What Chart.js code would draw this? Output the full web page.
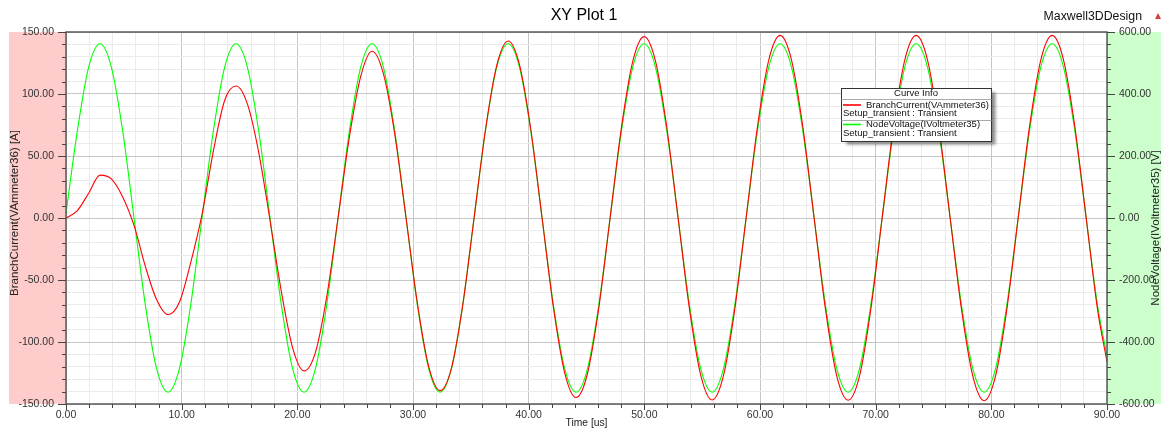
<!DOCTYPE html>
<html lang="en">
<head>
<meta charset="UTF-8" />
<title>XY Plot 1</title>
<script src="https://cdn.jsdelivr.net/npm/chart.js"></script>
<style>
  html, body { margin: 0; padding: 0; background: #fff; }
  canvas { display: block; }
</style>
</head>
<body>
<canvas id="plot" width="1161" height="429"></canvas>
<script>
// time samples [us]
const times = [
  0, 0.98, 1.96, 2.94, 3.92, 4.9, 5.88, 6.86, 7.84, 8.82, 9.8, 10.78,
  11.76, 12.74, 13.72, 14.7, 15.68, 16.66, 17.64, 18.62, 19.6, 20.58, 21.56, 22.54,
  23.52, 24.5, 25.48, 26.46, 27.44, 28.42, 29.4, 30.38, 31.36, 32.34, 33.32, 34.3,
  35.28, 36.26, 37.24, 38.22, 39.2, 40.18, 41.16, 42.14, 43.12, 44.1, 45.08, 46.06,
  47.04, 48.02, 49, 49.98, 50.96, 51.94, 52.92, 53.9, 54.88, 55.86, 56.84, 57.82,
  58.8, 59.78, 60.76, 61.74, 62.72, 63.7, 64.68, 65.66, 66.64, 67.62, 68.6, 69.58,
  70.56, 71.54, 72.52, 73.5, 74.48, 75.46, 76.44, 77.42, 78.4, 79.38, 80.36, 81.34,
  82.32, 83.3, 84.28, 85.26, 86.24, 87.22, 88.2, 89.18, 90
];

// BranchCurrent(VAmmeter36) [A]
const branchCurrent = [
  0, 6, 20, 34.6, 31.5, 17, -6, -39, -66, -78, -68, -36,
  3, 54, 95, 106.4, 92, 53, -2, -59.4, -104.9, -123.3, -108.5, -63.6,
  0, 65.2, 114.2, 134.5, 116.4, 67.8, 0, -68.8, -119.9, -139.2, -121.2, -70.3,
  0, 70.8, 123.1, 142.8, 123.9, 71.8, 0, -72.1, -125.1, -144.8, -125.6, -72.7,
  0, 72.9, 126.3, 146.3, 126.7, 73.2, 0, -73.3, -127, -146.8, -127.2, -73.5,
  0, 73.6, 127.5, 147.3, 127.6, 73.7, 0, -73.7, -127.6, -147, -127.6, -73.7,
  0, 73.7, 127.6, 147.3, 127.6, 73.7, 0, -73.7, -127.6, -147.4, -127.6, -73.7,
  0, 73.7, 127.6, 147.3, 127.6, 73.7, 0, -73.7, -116
];

// NodeVoltage(IVoltmeter35) [V]
const nodeVoltage = [
  15, 281, 487, 562, 487, 281, 0, -281, -487, -562, -487, -281,
  0, 281, 487, 562, 487, 281, 0, -281, -487, -562, -487, -281,
  0, 281, 487, 562, 487, 281, 0, -281, -487, -562, -487, -281,
  0, 281, 487, 562, 487, 281, 0, -281, -487, -562, -487, -281,
  0, 281, 487, 562, 487, 281, 0, -281, -487, -562, -487, -281,
  0, 281, 487, 562, 487, 281, 0, -281, -487, -562, -487, -281,
  0, 281, 487, 562, 487, 281, 0, -281, -487, -562, -487, -281,
  0, 281, 487, 562, 487, 281, 0, -281, -445
];

// labelled ticks
const xLabelTicks = [0, 10, 20, 30, 40, 50, 60, 70, 80, 90];
const leftLabelTicks = [-150, -100, -50, 0, 50, 100, 150];
const rightLabelTicks = [-600, -400, -200, 0, 200, 400, 600];

function range(a, b, step) {
  const out = [];
  for (let v = a; v <= b; v += step) out.push(v);
  return out;
}
const xMinor = range(0, 90, 2);
const leftMinor = range(-150, 150, 10);
const rightMinor = range(-600, 600, 40);

const FONT = '"Liberation Sans", Arial, sans-serif';
const MAJOR = '#c6c6c6';
const MINOR = '#ebebeb';

const decor = {
  id: 'decor',
  beforeDraw(chart) {
    const { ctx, chartArea: a } = chart;
    ctx.save();
    ctx.fillStyle = '#fff';
    ctx.fillRect(0, 0, chart.width, chart.height);
    ctx.fillStyle = 'rgb(255,204,204)';
    ctx.fillRect(9, a.top, a.left - 9, a.bottom - a.top);
    ctx.fillStyle = 'rgb(204,255,204)';
    ctx.fillRect(a.right, a.top, chart.width - a.right, a.bottom - a.top);
    ctx.restore();
  },
  afterDraw(chart) {
    const { ctx, chartArea: a } = chart;
    const xs = chart.scales.x, yl = chart.scales.y, yr = chart.scales.y1;
    ctx.save();

    // frame
    ctx.strokeStyle = '#5a5a5a';
    ctx.lineWidth = 1.5;
    ctx.strokeRect(a.left, a.top, a.right - a.left, a.bottom - a.top);

    // tick marks
    ctx.strokeStyle = '#444';
    ctx.lineWidth = 1;
    ctx.beginPath();
    xs.ticks.forEach(t => {
      const px = Math.round(xs.getPixelForValue(t.value)) + 0.5;
      const len = t.value % 10 === 0 ? 6 : 4;
      ctx.moveTo(px, a.bottom); ctx.lineTo(px, a.bottom + len);
    });
    yl.ticks.forEach(t => {
      const py = Math.round(yl.getPixelForValue(t.value)) + 0.5;
      const len = t.value % 50 === 0 ? 8 : 4;
      ctx.moveTo(a.left - len, py); ctx.lineTo(a.left, py);
    });
    yr.ticks.forEach(t => {
      const py = Math.round(yr.getPixelForValue(t.value)) + 0.5;
      const len = t.value % 200 === 0 ? 8 : 4;
      ctx.moveTo(a.right, py); ctx.lineTo(a.right + len, py);
    });
    ctx.stroke();

    // titles
    ctx.fillStyle = '#000';
    ctx.textBaseline = 'middle';
    ctx.textAlign = 'center';
    ctx.font = '16px ' + FONT;
    ctx.fillText('XY Plot 1', 584, 16);
    ctx.font = '10.3px ' + FONT;
    ctx.fillStyle = '#222';
    ctx.fillText('Time [us]', (a.left + a.right) / 2, 423);

    ctx.fillStyle = '#111';
    ctx.textAlign = 'right';
    ctx.font = '12.3px ' + FONT;
    ctx.fillText('Maxwell3DDesign', 1142, 17);
    ctx.fillStyle = '#d04040';
    ctx.beginPath();
    ctx.moveTo(1155, 19); ctx.lineTo(1161, 19); ctx.lineTo(1158, 13); ctx.closePath();
    ctx.fill();

    // axis titles
    ctx.fillStyle = '#222';
    ctx.font = '11.5px ' + FONT;
    ctx.textAlign = 'center';
    ctx.save();
    ctx.translate(15, 213);
    ctx.rotate(-Math.PI / 2);
    ctx.fillText('BranchCurrent(VAmmeter36) [A]', 0, 0);
    ctx.restore();
    ctx.save();
    ctx.translate(1155.5, 228);
    ctx.rotate(-Math.PI / 2);
    ctx.fillText('NodeVoltage(IVoltmeter35) [V]', 0, 0);
    ctx.restore();

    // curve info box
    const bx = 841.5, by = 88.5, bw = 150, bh = 53;
    ctx.save();
    ctx.shadowColor = 'rgba(0,0,0,0.45)';
    ctx.shadowOffsetX = 4;
    ctx.shadowOffsetY = 3;
    ctx.shadowBlur = 3;
    ctx.fillStyle = '#fff';
    ctx.fillRect(bx, by, bw, bh);
    ctx.restore();
    ctx.strokeStyle = '#333';
    ctx.lineWidth = 1;
    ctx.strokeRect(bx, by, bw, bh);
    ctx.strokeStyle = '#aaa';
    ctx.beginPath();
    ctx.moveTo(bx, 99.5); ctx.lineTo(bx + bw, 99.5);
    ctx.moveTo(bx, 120.5); ctx.lineTo(bx + bw, 120.5);
    ctx.stroke();

    ctx.font = '9.5px ' + FONT;
    ctx.fillStyle = '#111';
    ctx.textAlign = 'center';
    ctx.fillText('Curve Info', 916, 93.8);
    ctx.textAlign = 'left';
    ctx.lineWidth = 1.6;
    ctx.strokeStyle = '#ff0000';
    ctx.beginPath(); ctx.moveTo(843, 105); ctx.lineTo(861, 105); ctx.stroke();
    ctx.strokeStyle = '#00ff00';
    ctx.beginPath(); ctx.moveTo(843, 124.5); ctx.lineTo(861, 124.5); ctx.stroke();
    ctx.fillText('BranchCurrent(VAmmeter36)', 866, 105);
    ctx.fillText('Setup_transient : Transient', 843, 113.5);
    ctx.fillText('NodeVoltage(IVoltmeter35)', 866, 124.5);
    ctx.fillText('Setup_transient : Transient', 843, 133.3);

    ctx.restore();
  }
};

const tickFont = { family: FONT, size: 10.5 };

new Chart(document.getElementById('plot'), {
  type: 'line',
  data: {
    datasets: [
      {
        label: 'BranchCurrent(VAmmeter36)',
        data: times.map((t, i) => ({ x: t, y: branchCurrent[i] })),
        yAxisID: 'y',
        borderColor: '#ff0000',
        borderWidth: 1.1,
        pointRadius: 0,
        cubicInterpolationMode: 'monotone',
        fill: false
      },
      {
        label: 'NodeVoltage(IVoltmeter35)',
        data: times.map((t, i) => ({ x: t, y: nodeVoltage[i] })),
        yAxisID: 'y1',
        borderColor: '#00ff00',
        borderWidth: 1.1,
        pointRadius: 0,
        cubicInterpolationMode: 'monotone',
        fill: false
      }
    ]
  },
  options: {
    responsive: false,
    animation: false,
    events: [],
    layout: { padding: { top: 32, left: 0, right: 0, bottom: 0 } },
    plugins: { legend: { display: false }, tooltip: { enabled: false } },
    scales: {
      x: {
        type: 'linear',
        min: 0,
        max: 90,
        afterBuildTicks: s => { s.ticks = xMinor.map(v => ({ value: v })); },
        afterFit: s => { s.height = 25; },
        ticks: {
          autoSkip: false,
          maxRotation: 0,
          padding: 5,
          font: tickFont,
          color: '#333',
          callback: v => xLabelTicks.includes(v) ? v.toFixed(2) : ''
        },
        grid: {
          drawTicks: false,
          color: c => (c.tick && c.tick.value % 10 === 0) ? MAJOR : MINOR
        },
        border: { display: false }
      },
      y: {
        position: 'left',
        min: -150,
        max: 150,
        afterBuildTicks: s => { s.ticks = leftMinor.map(v => ({ value: v })); },
        afterFit: s => { s.width = 66; },
        ticks: {
          autoSkip: false,
          padding: 12,
          font: tickFont,
          color: '#333',
          callback: v => leftLabelTicks.includes(v) ? v.toFixed(2) : ''
        },
        grid: {
          drawTicks: false,
          color: c => (c.tick && c.tick.value % 50 === 0) ? MAJOR : MINOR
        },
        border: { display: false }
      },
      y1: {
        position: 'right',
        min: -600,
        max: 600,
        afterBuildTicks: s => { s.ticks = rightMinor.map(v => ({ value: v })); },
        afterFit: s => { s.width = 54; },
        ticks: {
          autoSkip: false,
          padding: 12,
          font: tickFont,
          color: '#333',
          callback: v => rightLabelTicks.includes(v) ? v.toFixed(2) : ''
        },
        grid: { drawTicks: false, drawOnChartArea: false },
        border: { display: false }
      }
    }
  },
  plugins: [decor]
});
</script>
</body>
</html>
